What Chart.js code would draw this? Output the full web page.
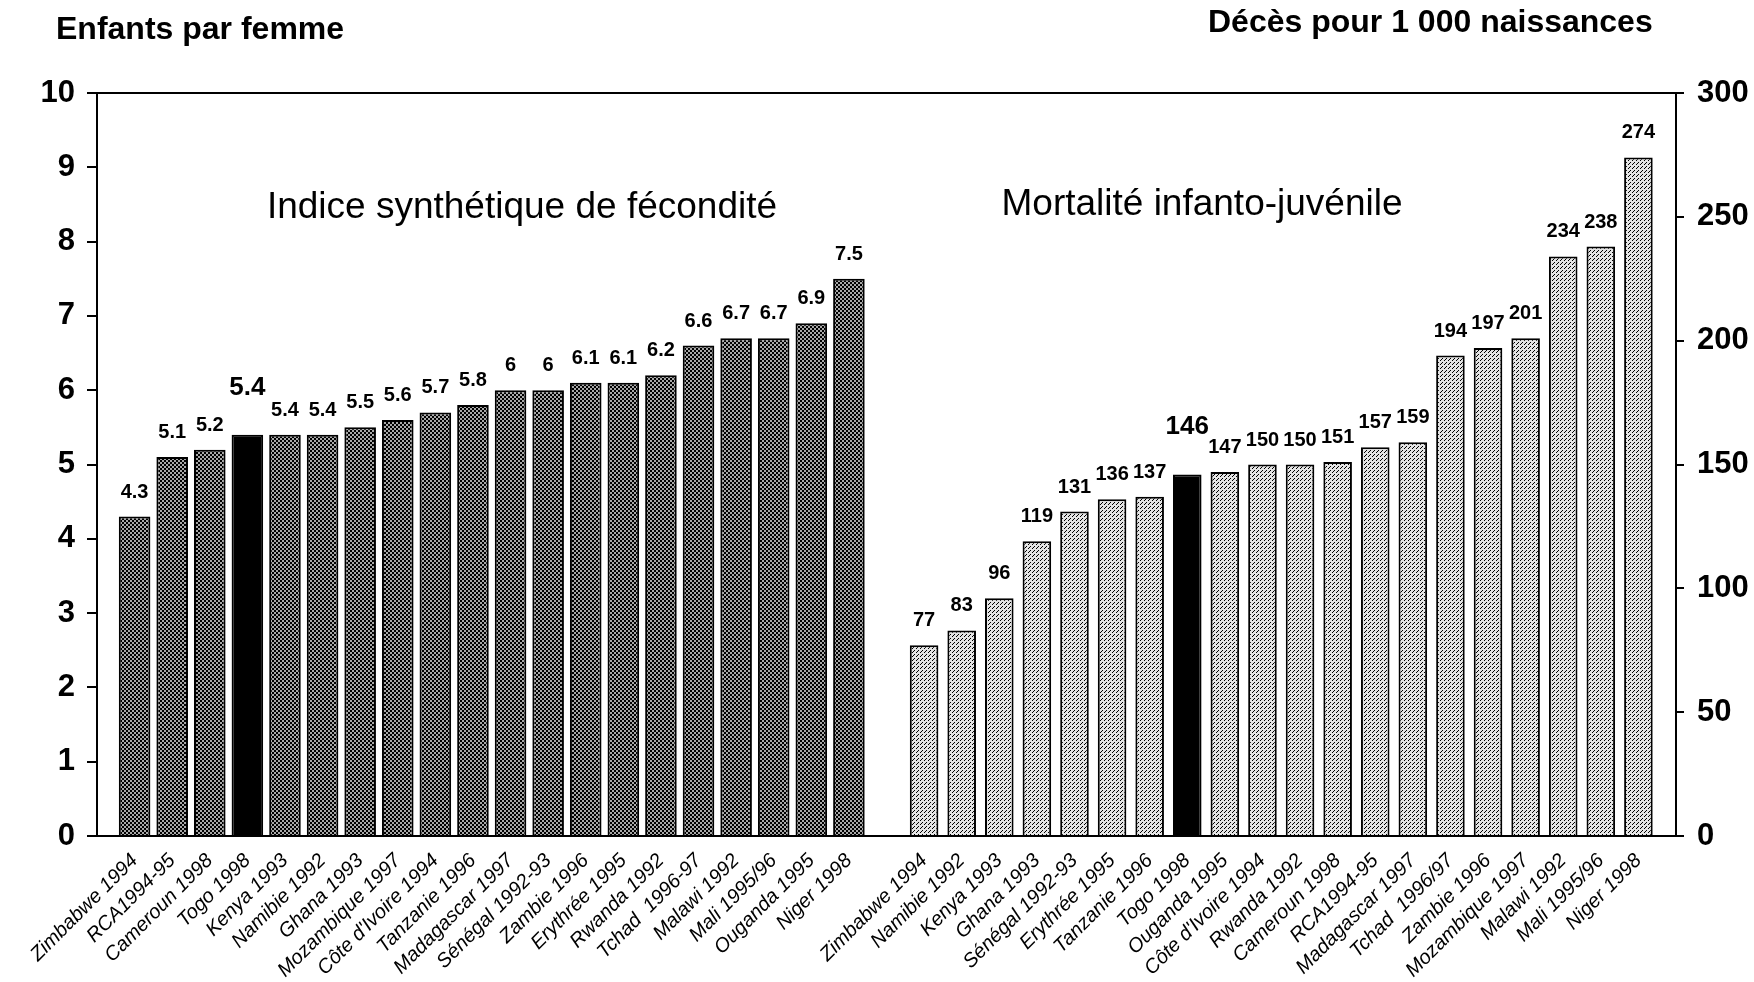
<!DOCTYPE html>
<html lang="fr">
<head>
<meta charset="utf-8">
<title>Fécondité et mortalité infanto-juvénile</title>
<script src="https://cdn.jsdelivr.net/npm/chart.js@4.4.1/dist/chart.umd.min.js"></script>
<style>
    html, body { margin: 0; padding: 0; background: #fff; }
    #wrap { position: relative; width: 1754px; height: 982px; font-family: "Liberation Sans", Arial, sans-serif; color: #000; }
    #wrap canvas { position: absolute; left: 0; top: 0; }
    .txt { position: absolute; white-space: nowrap; line-height: 1; }
    .axis-title { font-weight: bold; font-size: 32px; }
    .series-title { font-size: 37px; transform: translateX(-50%); }
</style>
</head>
<body>
<div id="wrap">
    <canvas id="myChart" width="1754" height="982"></canvas>
    <div class="txt axis-title" style="left:56px; top:12px;">Enfants par femme</div>
    <div class="txt axis-title" style="left:1208px; top:5px;">Décès pour 1 000 naissances</div>
    <div class="txt series-title" style="left:522px; top:187px;">Indice synthétique de fécondité</div>
    <div class="txt series-title" style="left:1202px; top:184px;">Mortalité infanto-juvénile</div>
</div>
<script>
// Indice synthétique de fécondité (enfants par femme)
var fertility_countries = ['Zimbabwe 1994', 'RCA1994-95', 'Cameroun 1998', 'Togo 1998', 'Kenya 1993',
    'Namibie 1992', 'Ghana 1993', 'Mozambique 1997', "Côte d'Ivoire 1994", 'Tanzanie 1996',
    'Madagascar 1997', 'Sénégal 1992-93', 'Zambie 1996', 'Erythrée 1995', 'Rwanda 1992',
    'Tchad  1996-97', 'Malawi 1992', 'Mali 1995/96', 'Ouganda 1995', 'Niger 1998'];
var fertility_values = [4.3, 5.1, 5.2, 5.4, 5.4, 5.4, 5.5, 5.6, 5.7, 5.8,
    6, 6, 6.1, 6.1, 6.2, 6.6, 6.7, 6.7, 6.9, 7.5];

// Mortalité infanto-juvénile (décès pour 1 000 naissances)
var mortality_countries = ['Zimbabwe 1994', 'Namibie 1992', 'Kenya 1993', 'Ghana 1993', 'Sénégal 1992-93',
    'Erythrée 1995', 'Tanzanie 1996', 'Togo 1998', 'Ouganda 1995', "Côte d'Ivoire 1994",
    'Rwanda 1992', 'Cameroun 1998', 'RCA1994-95', 'Madagascar 1997', 'Tchad  1996/97',
    'Zambie 1996', 'Mozambique 1997', 'Malawi 1992', 'Mali 1995/96', 'Niger 1998'];
var mortality_values = [77, 83, 96, 119, 131, 136, 137, 146, 147, 150,
    150, 151, 157, 159, 194, 197, 201, 234, 238, 274];

var fertility_ticks = [0, 10, 1];   // min, max, step
var mortality_ticks = [0, 300, 50];
var highlight = 'Togo 1998';

// one shared category axis: empty slot, fertility bars, empty slot, mortality bars, empty slot
var labels = [''].concat(fertility_countries, [''], mortality_countries, ['']);
var fertility_data = labels.map(function (l, i) {
    return (i >= 1 && i <= fertility_values.length) ? fertility_values[i - 1] : null;
});
var m0 = fertility_values.length + 2;
var mortality_data = labels.map(function (l, i) {
    return (i >= m0 && i < m0 + mortality_values.length) ? mortality_values[i - m0] : null;
});

function make_pattern(bg, size, dots) {
    var c = document.createElement('canvas');
    c.width = size;
    c.height = size;
    var g = c.getContext('2d');
    g.fillStyle = bg;
    g.fillRect(0, 0, size, size);
    g.fillStyle = '#000';
    dots.forEach(function (d) {
        g.fillRect(d[0], d[1], d[2], d[2]);
    });
    return g.createPattern(c, 'repeat');
}

var ctx = document.getElementById('myChart').getContext('2d');
var dark_fill = make_pattern('#a8a8a8', 4, [[0, 0, 2], [2, 2, 2]]);
var light_fill = make_pattern('#e4e4e4', 4, [[0, 0, 1], [2, 2, 1], [1, 3, 1]]);

function fill_for(pattern) {
    return function (c) {
        return labels[c.dataIndex] === highlight ? '#000' : pattern;
    };
}

var font_family = '"Liberation Sans", Arial, sans-serif';

// value written above each bar, larger for the highlighted country
var value_labels = {
    id: 'value_labels',
    afterDatasetsDraw: function (chart) {
        var c = chart.ctx;
        c.save();
        c.fillStyle = '#000';
        c.textAlign = 'center';
        c.textBaseline = 'alphabetic';
        chart.data.datasets.forEach(function (ds, i) {
            chart.getDatasetMeta(i).data.forEach(function (bar, j) {
                var v = ds.data[j];
                if (v === null || v === undefined) return;
                var big = chart.data.labels[j] === highlight;
                c.font = 'bold ' + (big ? 26 : 20) + 'px ' + font_family;
                c.fillText(String(v), bar.x, bar.y - (big ? 40 : 19));
            });
        });
        c.restore();
    }
};

// closing line across the top of the plot
var top_line = {
    id: 'top_line',
    afterDraw: function (chart) {
        var a = chart.chartArea;
        var c = chart.ctx;
        c.save();
        c.strokeStyle = '#000';
        c.lineWidth = 2;
        c.beginPath();
        c.moveTo(a.left, a.top);
        c.lineTo(a.right, a.top);
        c.stroke();
        c.restore();
    }
};

var config = {
    type: 'bar',
    data: {
        labels: labels,
        datasets: [{
            label: 'Indice synthétique de fécondité',
            data: fertility_data,
            yAxisID: 'y',
            grouped: false,
            categoryPercentage: 1,
            barPercentage: 0.84,
            backgroundColor: fill_for(dark_fill),
            borderColor: '#000',
            borderWidth: 2,
            borderSkipped: 'bottom'
        }, {
            label: 'Mortalité infanto-juvénile',
            data: mortality_data,
            yAxisID: 'y1',
            grouped: false,
            categoryPercentage: 1,
            barPercentage: 0.76,
            backgroundColor: fill_for(light_fill),
            borderColor: '#000',
            borderWidth: 2,
            borderSkipped: 'bottom'
        }]
    },
    options: {
        responsive: false,
        animation: false,
        layout: { padding: { top: 93, left: 0, right: 0, bottom: 0 } },
        plugins: {
            legend: { display: false },
            tooltip: { enabled: false }
        },
        scales: {
            x: {
                offset: false,
                grid: { display: false },
                border: { display: true, color: '#000', width: 2 },
                ticks: {
                    autoSkip: false,
                    minRotation: 45,
                    maxRotation: 45,
                    padding: 5,
                    color: '#000',
                    font: { family: font_family, size: 20, style: 'italic' }
                },
                afterFit: function (s) { s.height = 146; }
            },
            y: {
                position: 'left',
                min: fertility_ticks[0],
                max: fertility_ticks[1],
                grid: { drawOnChartArea: false, drawTicks: true, tickLength: 10, color: '#000', lineWidth: 2 },
                border: { display: true, color: '#000', width: 2 },
                ticks: {
                    stepSize: fertility_ticks[2],
                    padding: 12,
                    color: '#000',
                    font: { family: font_family, size: 31, weight: 'bold' }
                },
                afterFit: function (s) { s.width = 97; }
            },
            y1: {
                position: 'right',
                min: mortality_ticks[0],
                max: mortality_ticks[1],
                grid: { drawOnChartArea: false, drawTicks: true, tickLength: 8, color: '#000', lineWidth: 2 },
                border: { display: true, color: '#000', width: 2 },
                ticks: {
                    stepSize: mortality_ticks[2],
                    padding: 13,
                    color: '#000',
                    font: { family: font_family, size: 31, weight: 'bold' }
                },
                afterFit: function (s) { s.width = 78; }
            }
        }
    },
    plugins: [value_labels, top_line]
};

var chart = new Chart(ctx, config);
</script>
</body>
</html>
